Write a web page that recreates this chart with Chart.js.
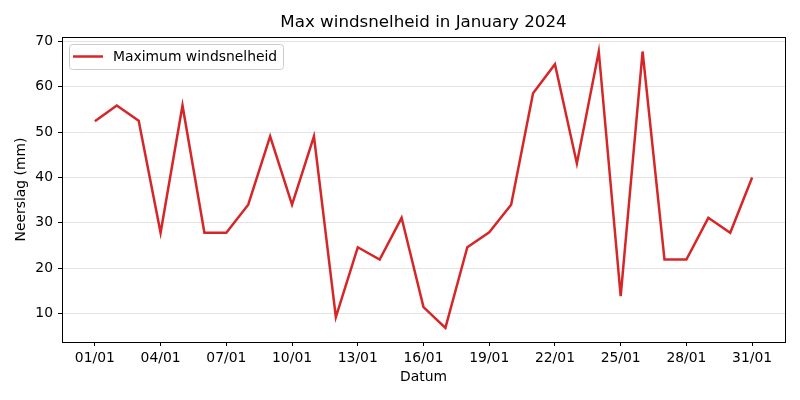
<!DOCTYPE html>
<html>
<head>
<meta charset="utf-8">
<script src="https://cdn.jsdelivr.net/npm/chart.js@4"></script>
<style>
  html, body { margin: 0; padding: 0; background: #fff; }
  #wrap { width: 800px; height: 400px; }
</style>
</head>
<body>
<div id="wrap"><canvas id="windChart"></canvas></div>
<script>
const dates = [
    '01/01', '02/01', '03/01', '04/01', '05/01', '06/01', '07/01', '08/01', '09/01', '10/01',
    '11/01', '12/01', '13/01', '14/01', '15/01', '16/01', '17/01', '18/01', '19/01', '20/01',
    '21/01', '22/01', '23/01', '24/01', '25/01', '26/01', '27/01', '28/01', '29/01', '30/01', '31/01'
];
const maxWind = [
    52.4, 55.9, 52.5, 27.8, 55.9, 27.8, 27.8, 34.0, 49.1, 34.0,
    49.1, 9.2, 24.6, 21.9, 31.1, 11.4, 6.8, 24.6, 27.9, 34.0,
    58.6, 65.0, 43.1, 67.8, 13.8, 67.8, 21.9, 21.9, 31.1, 27.8, 40.0
];
const xTicks = [0, 3, 6, 9, 12, 15, 18, 21, 24, 27, 30];
const yTicks = [10, 20, 30, 40, 50, 60, 70];
const chartTitle = 'Max windsnelheid in January 2024';

const fontFamily = '"DejaVu Sans", sans-serif';
const lineColor = '#d62728';

// matplotlib-style frame, title over the axes, legend inside the axes
const framePlugin = {
    id: 'frame',
    afterDraw(chart) {
        const { ctx, chartArea: { left, top, right, bottom } } = chart;
        ctx.save();
        ctx.strokeStyle = '#000';
        ctx.lineWidth = 1;
        ctx.strokeRect(Math.round(left) + 0.5, Math.round(top) + 0.5,
            Math.round(right - left), Math.round(bottom - top));

        ctx.fillStyle = '#000';
        ctx.font = '16.7px ' + fontFamily;
        ctx.textAlign = 'center';
        ctx.textBaseline = 'middle';
        ctx.fillText(chartTitle, (left + right) / 2, 23);

        // legend box
        const bx = left + 7, by = top + 7, bw = 214, bh = 25;
        ctx.beginPath();
        ctx.roundRect(bx + 0.5, by + 0.5, bw, bh, 3);
        ctx.fillStyle = 'rgba(255,255,255,0.8)';
        ctx.fill();
        ctx.strokeStyle = '#cccccc';
        ctx.stroke();

        ctx.beginPath();
        ctx.moveTo(bx + 4, by + 12.5);
        ctx.lineTo(bx + 34, by + 12.5);
        ctx.strokeStyle = lineColor;
        ctx.lineWidth = 2.5;
        ctx.stroke();

        ctx.fillStyle = '#000';
        ctx.font = '13.9px ' + fontFamily;
        ctx.textBaseline = 'middle';
        ctx.textAlign = 'left';
        ctx.fillText('Maximum windsnelheid', bx + 44, by + 13);
        ctx.restore();
    }
};

document.addEventListener('DOMContentLoaded', () => {
    const canvas = document.getElementById('windChart');

    new Chart(canvas, {
        type: 'line',
        data: {
            datasets: [{
                label: 'Maximum windsnelheid',
                data: maxWind.map((v, i) => ({ x: i, y: v })),
                borderColor: lineColor,
                backgroundColor: lineColor,
                borderWidth: 2.5,
                tension: 0,
                pointRadius: 0,
                fill: false
            }]
        },
        options: {
            responsive: true,
            maintainAspectRatio: false,
            animation: false,
            layout: {
                padding: { left: 0, right: 15, top: 37, bottom: 0 }
            },
            plugins: {
                legend: { display: false },
                tooltip: { enabled: false },
                title: { display: false }
            },
            scales: {
                x: {
                    type: 'linear',
                    min: -1.5,
                    max: 31.5,
                    afterBuildTicks: scale => {
                        scale.ticks = xTicks.map(v => ({ value: v }));
                    },
                    afterFit: scale => { scale.height = 58; },
                    border: { display: false },
                    grid: {
                        drawOnChartArea: false,
                        drawTicks: true,
                        tickLength: 4,
                        tickColor: '#000'
                    },
                    ticks: {
                        color: '#000',
                        padding: 4,
                        maxRotation: 0,
                        autoSkip: false,
                        font: { family: fontFamily, size: 13.9 },
                        callback: value => dates[value] ?? ''
                    },
                    title: {
                        display: true,
                        text: 'Datum',
                        color: '#000',
                        font: { family: fontFamily, size: 13.9 },
                        padding: { top: 0, bottom: 14 }
                    }
                },
                y: {
                    min: 3.7,
                    max: 71.0,
                    afterBuildTicks: scale => {
                        scale.ticks = yTicks.map(v => ({ value: v }));
                    },
                    afterFit: scale => { scale.width = 62; },
                    border: { display: false },
                    grid: {
                        color: '#e3e3e3',
                        lineWidth: 1,
                        drawTicks: true,
                        tickLength: 4,
                        tickColor: '#000'
                    },
                    ticks: {
                        color: '#000',
                        padding: 5,
                        font: { family: fontFamily, size: 13.9 }
                    },
                    title: {
                        display: true,
                        text: 'Neerslag (mm)',
                        color: '#000',
                        font: { family: fontFamily, size: 13.9 },
                        padding: { top: 13, bottom: 0 }
                    }
                }
            }
        },
        plugins: [framePlugin]
    });
});
</script>
</body>
</html>
